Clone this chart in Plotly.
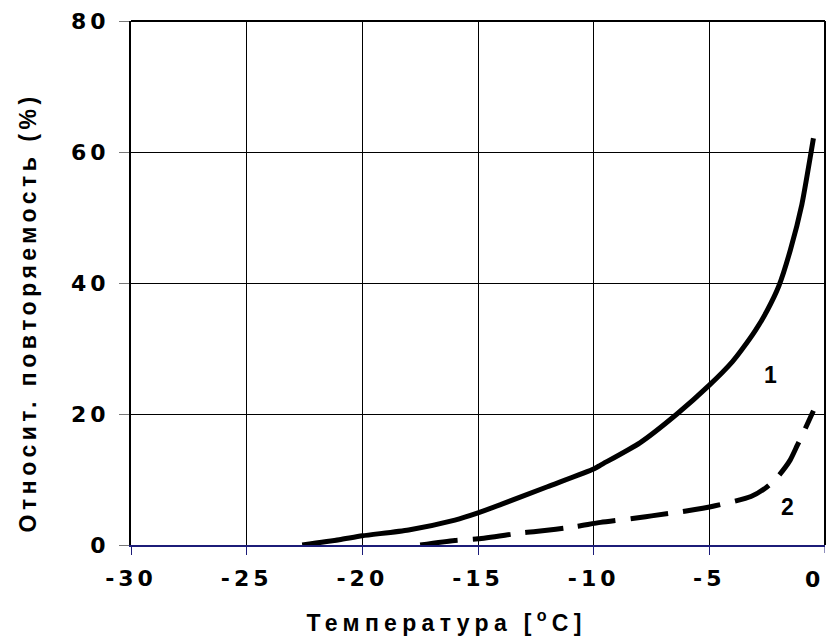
import plotly.graph_objects as go

# Curve 1 (solid)
x1 = [-22.6, -21.0, -20.0, -18.0, -16.0, -15.0, -14.0, -12.0, -10.0, -9.7, -8.0,
      -6.4, -5.0, -4.0, -3.6, -3.0, -2.5, -2.0, -1.5, -1.0, -0.6, -0.5]
y1 = [0.0, 0.8, 1.4, 2.3, 3.8, 4.9, 6.2, 8.9, 11.6, 12.2, 15.6,
      20.0, 24.4, 28.0, 29.8, 32.8, 35.8, 39.5, 45.0, 52.0, 60.0, 62.1]

# Curve 2 (dashed)
x2 = [-17.5, -16.0, -15.0, -13.0, -12.5, -10.8, -9.7, -8.0, -7.5, -6.0,
      -4.75, -3.2, -2.5, -2.0, -1.5, -1.2, -0.9, -0.5]
y2 = [0.0, 0.7, 0.95, 1.9, 2.05, 2.8, 3.45, 4.2, 4.45, 5.2,
      6.0, 7.4, 8.9, 10.6, 13.0, 15.2, 17.4, 20.5]

x_ticks = [-30, -25, -20, -15, -10, -5]
x_last_tick = 0
y_ticks = [0, 20, 40, 60, 80]

x_title = "Температура [<sup>o</sup>C]"
y_title = "Относит. повторяемость (%)"
curve_labels = ["1", "2"]

FONT = "Liberation Sans, Arial, sans-serif"
TICKFONT = "DejaVu Sans, Verdana, sans-serif"
NAVY = "#1c1c78"
BOLD = dict(family=FONT, size=23, color="black", weight="bold")
TICK = dict(family=TICKFONT, size=22, color="black", weight="bold")

fig = go.Figure()
fig.add_trace(go.Scatter(x=x1, y=y1, mode="lines",
                         line=dict(color="black", width=5, shape="spline", smoothing=0.6),
                         hoverinfo="skip", showlegend=False))
fig.add_trace(go.Scatter(x=x2, y=y2, mode="lines",
                         line=dict(color="black", width=5, dash="38px,15px", shape="spline", smoothing=0.6),
                         hoverinfo="skip", showlegend=False))

# curve labels
fig.add_annotation(x=-2.35, y=26.0, text=curve_labels[0], showarrow=False, font=BOLD)
fig.add_annotation(x=-1.6, y=5.85, text=curve_labels[1], showarrow=False, font=BOLD)
# axis titles
fig.add_annotation(xref="paper", yref="paper", x=0.454, y=-0.145, text=x_title, showarrow=False,
                   xanchor="center", yanchor="middle", font=BOLD)
fig.add_annotation(xref="paper", yref="paper", x=-0.1484, y=0.443, text=y_title, showarrow=False,
                   textangle=-90, xanchor="center", yanchor="middle", font=BOLD)
# last x tick label (kept inside the page, as in the reference)
fig.add_annotation(x=x_last_tick, xref="x", yref="paper", y=-0.0649, text=str(x_last_tick),
                   showarrow=False, xanchor="center", yanchor="middle", xshift=-13, font=TICK)
# tick mark at x = 0
fig.add_shape(type="line", xref="x", yref="paper", x0=x_last_tick, x1=x_last_tick, y0=0, y1=-8 / 524,
              line=dict(color=NAVY, width=1))

# frame (top and right)
fig.add_shape(type="line", xref="paper", yref="paper", x0=0, x1=1, y0=1, y1=1,
              line=dict(color="black", width=2), layer="above")
fig.add_shape(type="line", xref="paper", yref="paper", x0=1, x1=1, y0=0, y1=1,
              line=dict(color="black", width=2), layer="above")

fig.update_layout(
    width=832, height=644,
    margin=dict(l=131, r=7, t=21, b=99),
    paper_bgcolor="white", plot_bgcolor="white",
    font=BOLD,
    xaxis=dict(range=[-30, 0], tickvals=x_ticks, ticktext=[str(v) for v in x_ticks],
               showgrid=True, gridcolor="black", gridwidth=1,
               showline=True, linecolor=NAVY, linewidth=2,
               ticks="outside", ticklen=8, tickcolor=NAVY, tickwidth=1,
               ticklabelstandoff=5, zeroline=False, tickfont=TICK),
    yaxis=dict(range=[0, 80], tickvals=y_ticks, ticktext=[str(v) for v in y_ticks],
               showgrid=True, gridcolor="black", gridwidth=1,
               showline=True, linecolor="black", linewidth=2,
               ticks="outside", ticklen=10, tickcolor="#777777", tickwidth=1,
               ticklabelstandoff=5, zeroline=False, tickfont=TICK),
)

post = """
var gd = document.getElementById('{plot_id}');
function applyLS(){
  gd.querySelectorAll('.xtick text, .ytick text').forEach(function(t){ t.style.letterSpacing = '4px'; });
  var sp = {'2': '5.3px', '3': '4.5px'};
  gd.querySelectorAll('.annotation').forEach(function(a){
    var i = a.getAttribute('data-index');
    if (sp[i]) { a.querySelectorAll('text').forEach(function(t){ t.style.letterSpacing = sp[i]; }); }
  });
}
applyLS();
if (gd.on) { gd.on('plotly_afterplot', applyLS); }
"""

fig.write_html("out.html", post_script=post)
